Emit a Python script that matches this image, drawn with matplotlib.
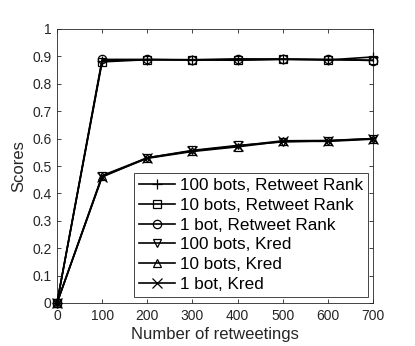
import matplotlib
matplotlib.use('Agg')
import matplotlib.pyplot as plt

plt.rcParams['font.family'] = ['Liberation Sans', 'DejaVu Sans']

# retweetings on the x axis
x = [0, 100, 200, 300, 400, 500, 600, 700]

# Retweet Rank scores
rr_100 = [0, 0.885, 0.888, 0.887, 0.888, 0.890, 0.887, 0.898]
rr_10 = [0, 0.880, 0.888, 0.887, 0.886, 0.889, 0.888, 0.886]
rr_1 = [0, 0.889, 0.889, 0.888, 0.891, 0.890, 0.889, 0.885]

# Kred scores
kred_100 = [0, 0.465, 0.530, 0.557, 0.575, 0.588, 0.592, 0.600]
kred_10 = [0, 0.462, 0.528, 0.553, 0.570, 0.590, 0.590, 0.598]
kred_1 = [0, 0.460, 0.530, 0.555, 0.573, 0.592, 0.593, 0.600]

labels = ['100 bots, Retweet Rank', '10 bots, Retweet Rank', '1 bot, Retweet Rank',
          '100 bots, Kred', '10 bots, Kred', '1 bot, Kred']
markers = ['+', 's', 'o', 'v', '^', 'x']

fig = plt.figure(figsize=(4.15, 3.46), dpi=100)
ax = fig.add_axes([57/415, 1 - 303/346, 316/415, 274/346])

series = [rr_100, rr_10, rr_1, kred_100, kred_10, kred_1]
for y, m, lab in zip(series, markers, labels):
    ms = 7 if m in ('+', 'x') else 6
    ax.plot(x, y, color='black', lw=1.2, marker=m, markersize=ms,
            markerfacecolor='none', markeredgecolor='black', markeredgewidth=0.9,
            label=lab, clip_on=False, zorder=3)

ax.set_xlim(0, 700)
ax.set_ylim(0, 1)
ax.set_xticks(x)
ax.set_yticks([0, 0.1, 0.2, 0.3, 0.4, 0.5, 0.6, 0.7, 0.8, 0.9, 1])
ax.set_yticklabels(['0', '0.1', '0.2', '0.3', '0.4', '0.5', '0.6', '0.7', '0.8', '0.9', '1'])

for s in ax.spines.values():
    s.set_color('#262626')
    s.set_linewidth(0.6)
ax.tick_params(direction='in', length=3, width=0.6, colors='#262626', labelsize=10,
               top=True, right=True, pad=4)

ax.set_xlabel('Number of retweetings', fontsize=12, color='#262626', labelpad=3)
ax.set_ylabel('Scores', fontsize=12, color='#262626', labelpad=4)

leg = ax.legend(loc='lower right', bbox_to_anchor=(368/415, 1 - 297/346),
                bbox_transform=fig.transFigure, fontsize=12.3, frameon=True,
                fancybox=False, edgecolor='#262626', framealpha=1,
                handlelength=2.1, handletextpad=0.3, borderpad=0.3,
                labelspacing=0.28, borderaxespad=0.0)
leg.get_frame().set_linewidth(0.6)
leg.set_zorder(5)

fig.savefig('out.png', dpi=100)
